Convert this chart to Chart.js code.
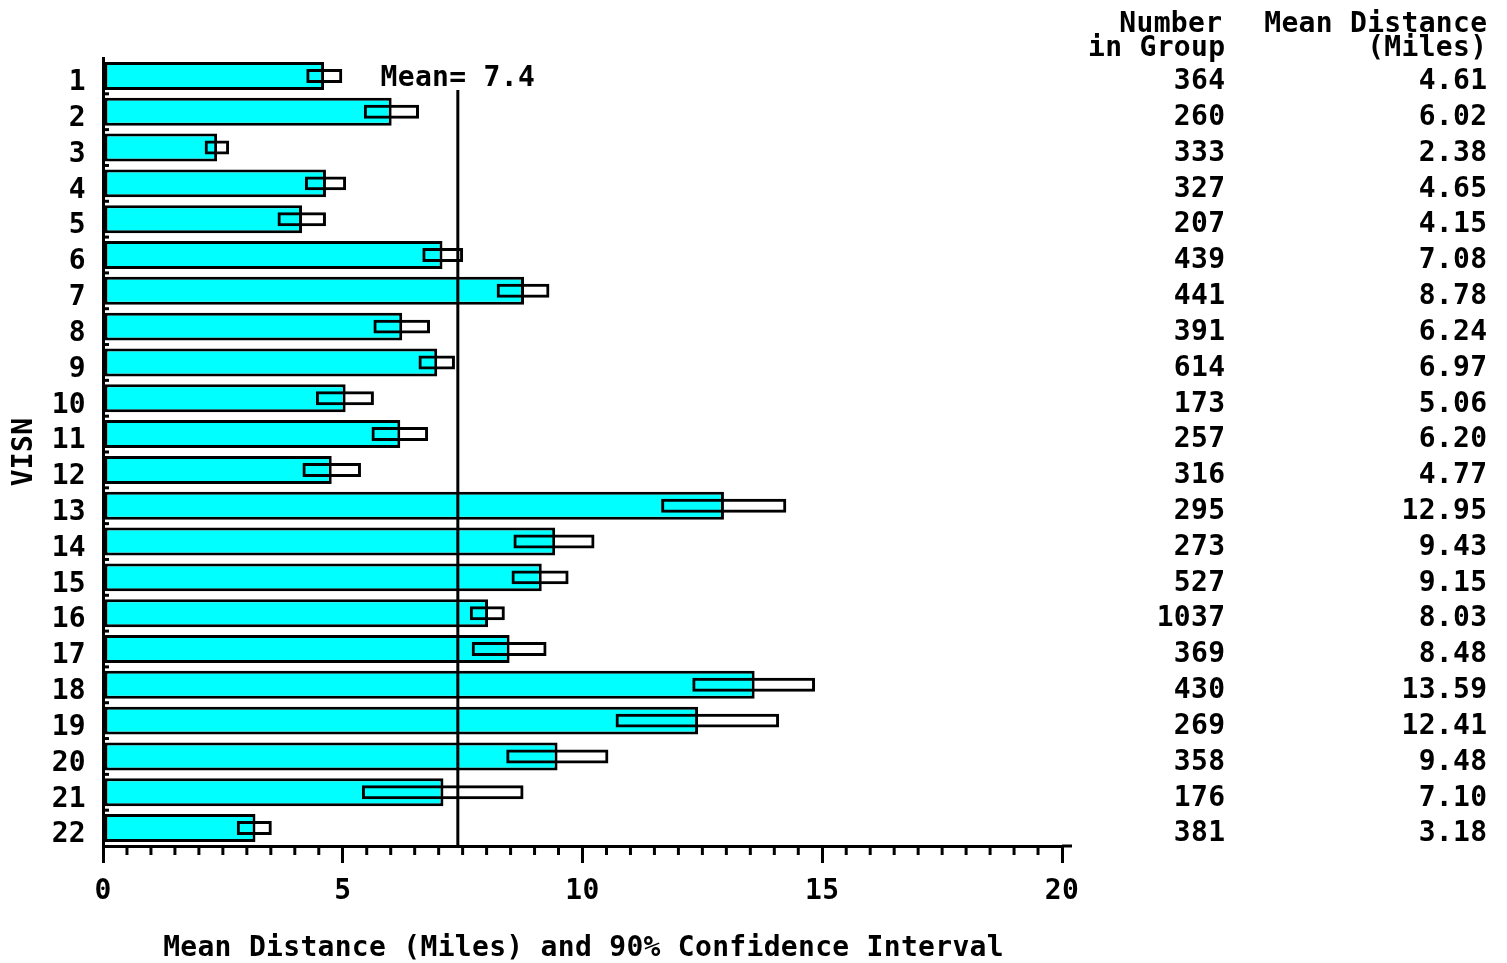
<!DOCTYPE html>
<html>
<head>
<meta charset="utf-8">
<script src="https://cdn.jsdelivr.net/npm/chart.js@4.4.1/dist/chart.umd.min.js"></script>
<style>
  html, body { margin: 0; padding: 0; background: #ffffff; }
  canvas { display: block; }
</style>
</head>
<body>
<canvas id="chart" width="1507" height="963"></canvas>
<script>
// VISN groups
const CATEGORIES = ['1','2','3','4','5','6','7','8','9','10','11','12','13','14','15','16','17','18','19','20','21','22'];
// number of patients in each group
const COUNTS = [364, 260, 333, 327, 207, 439, 441, 391, 614, 173, 257, 316, 295, 273, 527, 1037, 369, 430, 269, 358, 176, 381];
// mean distance in miles
const MEANS = [4.61, 6.02, 2.38, 4.65, 4.15, 7.08, 8.78, 6.24, 6.97, 5.06, 6.20, 4.77, 12.95, 9.43, 9.15, 8.03, 8.48, 13.59, 12.41, 9.48, 7.10, 3.18];
// 90% confidence interval bounds
const CI_LOW  = [4.24, 5.44, 2.12, 4.21, 3.64, 6.66, 8.21, 5.64, 6.58, 4.44, 5.60, 4.16, 11.64, 8.56, 8.52, 7.65, 7.69, 12.29, 10.69, 8.41, 5.40, 2.79];
const CI_HIGH = [4.99, 6.59, 2.63, 5.07, 4.65, 7.51, 9.31, 6.82, 7.34, 5.65, 6.78, 5.38, 14.25, 10.25, 9.71, 8.38, 9.25, 14.85, 14.10, 10.54, 8.77, 3.52];
// overall mean
const MEAN_LINE = 7.4;
// axis range and tick spacing
const X_MIN = 0;
const X_MAX = 20;
const X_MAJOR_STEP = 5;
const X_MINOR_STEP = 0.5;
// text
const X_TITLE = 'Mean Distance (Miles) and 90% Confidence Interval';
const Y_TITLE = 'VISN';
const COUNT_HEADER = ['Number', 'in Group'];
const MEAN_HEADER = ['Mean Distance', '(Miles)'];

const FAMILY = '"DejaVu Sans Mono", "Liberation Mono", monospace';
const FONT_SIZE = 28;
const FONT = `bold ${FONT_SIZE}px ${FAMILY}`;
const SPACING = 0.3;

const ciRanges = CI_LOW.map((lo, i) => [lo, CI_HIGH[i]]);

const decor = {
  id: 'decor',
  beforeUpdate(chart) { chart.ctx.letterSpacing = SPACING + 'px'; },
  beforeDraw(chart) { chart.ctx.letterSpacing = SPACING + 'px'; },
  afterDatasetsDraw(chart) {
    const { ctx, chartArea: a, scales: { x } } = chart;
    const first = chart.getDatasetMeta(1).data[0];
    const mx = x.getPixelForValue(MEAN_LINE);
    ctx.save();
    ctx.strokeStyle = '#000';
    ctx.lineWidth = 3;
    ctx.beginPath();
    ctx.moveTo(mx, first.y + first.height / 2);
    ctx.lineTo(mx, a.bottom);
    ctx.stroke();
    ctx.restore();
  },
  afterDraw(chart) {
    const { ctx, chartArea: a, scales: { x, y } } = chart;
    ctx.save();
    ctx.letterSpacing = SPACING + 'px';
    ctx.fillStyle = '#000';
    ctx.strokeStyle = '#000';
    ctx.font = FONT;
    ctx.lineWidth = 3;

    // axis line runs a little past the last tick
    ctx.beginPath();
    ctx.moveTo(a.right, a.bottom);
    ctx.lineTo(a.right + 10, a.bottom);
    ctx.stroke();

    // minor ticks on the x axis
    for (let v = X_MIN; v <= X_MAX + 1e-9; v += X_MINOR_STEP) {
      if (Math.abs(v / X_MAJOR_STEP - Math.round(v / X_MAJOR_STEP)) < 1e-9) continue;
      const px = x.getPixelForValue(v);
      ctx.beginPath();
      ctx.moveTo(px, a.bottom);
      ctx.lineTo(px, a.bottom + 9);
      ctx.stroke();
    }

    // short inward marks between categories on the y axis
    const band = (a.bottom - a.top) / CATEGORIES.length;
    for (let i = 1; i < CATEGORIES.length; i++) {
      const yb = y.getPixelForValue(i) - band / 2;
      ctx.beginPath();
      ctx.moveTo(a.left, yb);
      ctx.lineTo(a.left + 6, yb);
      ctx.stroke();
    }

    // mean label
    const mx = x.getPixelForValue(MEAN_LINE);
    ctx.textAlign = 'center';
    ctx.textBaseline = 'middle';
    ctx.fillText('Mean= ' + MEAN_LINE.toFixed(1), mx, y.getPixelForValue(0) + 3);

    // side table
    const countRight = chart.width - 282 + SPACING;
    const meanRight = chart.width - 20 + SPACING;
    ctx.textAlign = 'right';
    ctx.fillText(COUNT_HEADER[0], countRight - 3, 25);
    ctx.fillText(COUNT_HEADER[1], countRight, 49);
    ctx.fillText(MEAN_HEADER[0], meanRight, 25);
    ctx.fillText(MEAN_HEADER[1], meanRight, 49);
    for (let i = 0; i < CATEGORIES.length; i++) {
      const yy = y.getPixelForValue(i) + 6;
      ctx.fillText(String(COUNTS[i]), countRight, yy);
      ctx.fillText(MEANS[i].toFixed(2), meanRight, yy);
    }

    // axis titles
    ctx.textAlign = 'center';
    ctx.fillText(X_TITLE, (a.left + a.right) / 2 + 1, 949);
    ctx.translate(25, (a.top + a.bottom) / 2);
    ctx.rotate(-Math.PI / 2);
    ctx.fillText(Y_TITLE, 0, 0);
    ctx.restore();
  }
};

Chart.defaults.font.family = FAMILY;
Chart.defaults.font.size = FONT_SIZE;
Chart.defaults.font.weight = 'bold';
Chart.defaults.color = '#000';

new Chart(document.getElementById('chart'), {
  type: 'bar',
  data: {
    labels: CATEGORIES,
    datasets: [
      {
        label: '90% Confidence Interval',
        data: ciRanges,
        backgroundColor: 'rgba(0,0,0,0)',
        borderColor: '#000000',
        borderWidth: 3,
        borderSkipped: false,
        categoryPercentage: 1,
        barPercentage: 0.39,
        grouped: false,
        order: 0
      },
      {
        label: 'Mean Distance (Miles)',
        data: MEANS,
        backgroundColor: '#00ffff',
        borderColor: '#000000',
        borderWidth: 3,
        borderSkipped: false,
        categoryPercentage: 1,
        barPercentage: 0.78,
        grouped: false,
        order: 1
      }
    ]
  },
  options: {
    indexAxis: 'y',
    responsive: false,
    animation: false,
    layout: { padding: { left: 0, right: 445, top: 58, bottom: 0 } },
    plugins: { legend: { display: false }, tooltip: { enabled: false } },
    scales: {
      x: {
        type: 'linear',
        position: 'bottom',
        min: X_MIN,
        max: X_MAX,
        afterFit(scale) { scale.height = 117; },
        ticks: { stepSize: X_MAJOR_STEP, padding: 12, maxRotation: 0, font: { size: FONT_SIZE, weight: 'bold' } },
        grid: { display: true, drawOnChartArea: false, drawTicks: true, tickLength: 17, color: '#000', lineWidth: 3 },
        border: { display: true, color: '#000', width: 3 }
      },
      y: {
        type: 'category',
        afterFit(scale) { scale.width = 103; },
        ticks: { padding: 17, labelOffset: 7, autoSkip: false, font: { size: FONT_SIZE, weight: 'bold' } },
        grid: { display: false, drawTicks: false },
        border: { display: true, color: '#000', width: 3 }
      }
    }
  },
  plugins: [decor]
});
</script>
</body>
</html>
